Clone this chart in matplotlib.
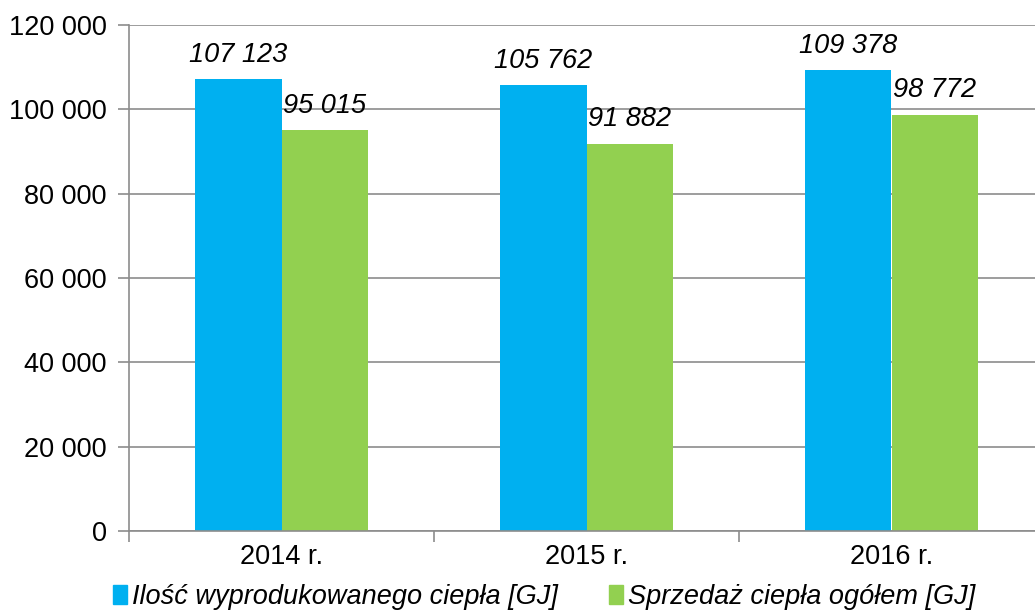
import numpy as np
import matplotlib.pyplot as plt
from matplotlib.patches import Patch

plt.rcParams['font.family'] = ['Liberation Sans', 'DejaVu Sans']

years = ["2014 r.", "2015 r.", "2016 r."]
produced = [107123, 105762, 109378]
sold = [95015, 91882, 98772]
names = ["Ilość wyprodukowanego ciepła [GJ]", "Sprzedaż ciepła ogółem [GJ]"]
colors = ["#00B0F0", "#92D050"]

def fmt(v):
    return "{:,}".format(v).replace(",", " ")

fig = plt.figure(figsize=(10.35, 6.12), dpi=100)
ax = fig.add_axes([129/1035, 1-531/612, (1044-129)/1035, (531-25)/612])

x = np.arange(len(years))
w = 0.285
b1 = ax.bar(x - w/2, produced, w, color=colors[0], zorder=2)
b2 = ax.bar(x + w/2, sold, w, color=colors[1], zorder=2)

for bars, vals in ((b1, produced), (b2, sold)):
    for r, v in zip(bars, vals):
        ax.annotate(fmt(v), (r.get_x() + r.get_width()/2, v), xytext=(0, 8),
                    textcoords="offset points", ha="center", va="bottom",
                    fontsize=19.5, style="italic")

ax.set_ylim(0, 120000)
ax.set_xlim(-0.5, 2.5)
ax.set_yticks(range(0, 120001, 20000))
ax.set_yticklabels([fmt(v) for v in range(0, 120001, 20000)])
ax.yaxis.grid(True, color="#8c8c8c", linewidth=1.2, zorder=0)
ax.set_axisbelow(True)

ax.set_xticks([-0.5, 0.5, 1.5, 2.5])
ax.set_xticklabels([])
ax.set_xticks(x, minor=True)
ax.set_xticklabels(years, minor=True)
ax.tick_params(axis="x", which="minor", length=0, labelsize=19.5, pad=9)
ax.tick_params(axis="x", which="major", length=8, color="#8c8c8c", width=1.2)
ax.tick_params(axis="y", length=8, color="#8c8c8c", width=1.2, labelsize=19.5, pad=8)

for s in ("top", "right"):
    ax.spines[s].set_visible(False)
for s in ("left", "bottom"):
    ax.spines[s].set_color("#8c8c8c")
    ax.spines[s].set_linewidth(1.2)

handles = [Patch(color=c) for c in colors]
fig.legend(handles, names, loc="center", bbox_to_anchor=(0.526, 0.024), ncol=2,
           frameon=False, prop={"size": 19.5, "style": "italic"},
           handlelength=0.5, handleheight=0.7, handletextpad=0.2, columnspacing=1.9)

fig.savefig("out.png", dpi=100)
